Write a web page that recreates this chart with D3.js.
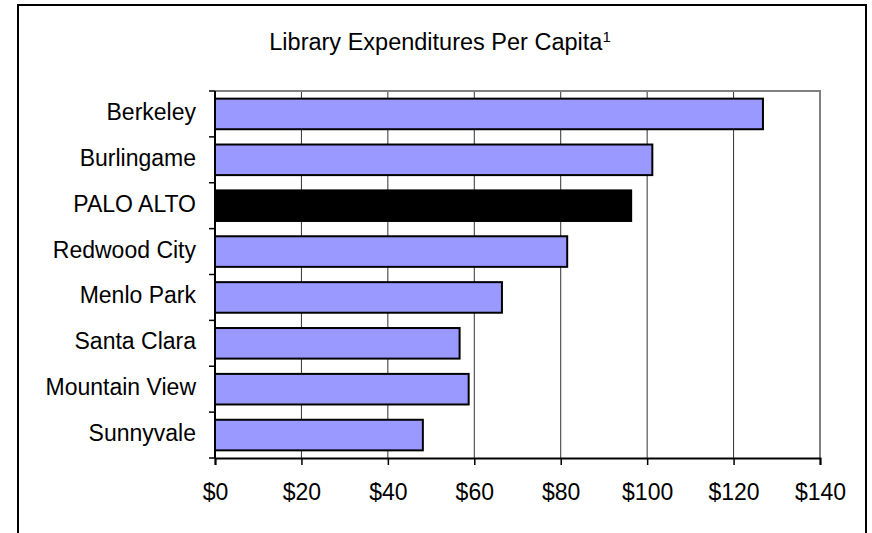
<html>
<head>
<script src='https://d3js.org/d3.v7.min.js'></script>
<style>
  body { margin: 0; background: white; }
  text { font-family: 'Liberation Sans', Arial, sans-serif; fill: black; }
</style>
</head>
<body>
<svg width=872 height=533></svg>
<script>
  // chart values
  var cities = ["Berkeley", "Burlingame", "PALO ALTO", "Redwood City", "Menlo Park", "Santa Clara", "Mountain View", "Sunnyvale"];
  var spending = [126.8, 101.2, 96.3, 81.5, 66.4, 56.6, 58.7, 48.1];
  var xTicks = [0, 20, 40, 60, 80, 100, 120, 140];
  var highlight = "PALO ALTO";

  var svg = d3.select("svg");
  var plotLeft = 215, plotRight = 820, plotTop = 91, plotBottom = 458;

  // outer chart frame (bottom edge runs off the picture)
  svg.append("rect")
    .attr("x", 18).attr("y", 5)
    .attr("width", 848).attr("height", 560)
    .attr("fill", "white").attr("stroke", "black").attr("stroke-width", 2);

  svg.append("text")
    .attr("x", 440).attr("y", 50)
    .attr("text-anchor", "middle")
    .style("font-size", "23.5px")
    .text("Library Expenditures Per Capita")
    .append("tspan")
    .attr("dy", -8)
    .style("font-size", "15px")
    .text("1");

  var xs = d3.scaleLinear().domain([0, 140]).range([plotLeft, plotRight]);
  var ys = d3.scaleBand().domain(cities).range([plotTop, plotBottom]).paddingInner(1/3).paddingOuter(1/6);
  var step = ys.step();

  // gridlines
  svg.append("g").selectAll("line").data(xTicks.slice(1, -1)).enter()
    .append("line")
    .attr("x1", d => xs(d)).attr("x2", d => xs(d))
    .attr("y1", plotTop).attr("y2", plotBottom)
    .attr("stroke", "#333").attr("stroke-width", 1);

  // plot frame top and right
  svg.append("path")
    .attr("d", "M" + plotLeft + "," + plotTop + "H" + plotRight + "V" + plotBottom)
    .attr("fill", "none").attr("stroke", "#808080").attr("stroke-width", 2);

  svg.append("g").selectAll("rect").data(cities).enter()
    .append("rect")
    .attr("x", xs(0))
    .attr("y", d => ys(d))
    .attr("width", (d, i) => xs(spending[i]) - xs(0))
    .attr("height", ys.bandwidth())
    .attr("fill", d => d == highlight ? "black" : "#9999ff")
    .attr("stroke", "black").attr("stroke-width", 2);

  // y axis with ticks between categories
  var yAxis = svg.append("g");
  yAxis.append("line")
    .attr("x1", plotLeft).attr("x2", plotLeft).attr("y1", plotTop).attr("y2", plotBottom)
    .attr("stroke", "black").attr("stroke-width", 2);
  yAxis.selectAll(".tk").data(d3.range(cities.length + 1)).enter()
    .append("line")
    .attr("x1", plotLeft - 6).attr("x2", plotLeft)
    .attr("y1", i => plotTop + i * step).attr("y2", i => plotTop + i * step)
    .attr("stroke", "black").attr("stroke-width", 1.5);
  yAxis.selectAll("text").data(cities).enter()
    .append("text")
    .attr("x", 196)
    .attr("y", d => ys(d) + ys.bandwidth() / 2 + 6)
    .attr("text-anchor", "end")
    .style("font-size", "23px")
    .text(d => d);

  var xAxis = svg.append("g").attr("transform", "translate(0," + plotBottom + ")")
    .call(d3.axisBottom(xs).tickValues(xTicks).tickSize(7).tickPadding(19).tickFormat(d => "$" + d));
  xAxis.select(".domain").attr("stroke", "black").attr("stroke-width", 2);
  xAxis.selectAll(".tick line").attr("stroke", "black").attr("stroke-width", 1.5);
  xAxis.selectAll(".tick text")
    .style("font-size", "23px")
    .style("font-family", "'Liberation Sans', Arial, sans-serif")
    .attr("fill", "black");
</script>
</body>
</html>
